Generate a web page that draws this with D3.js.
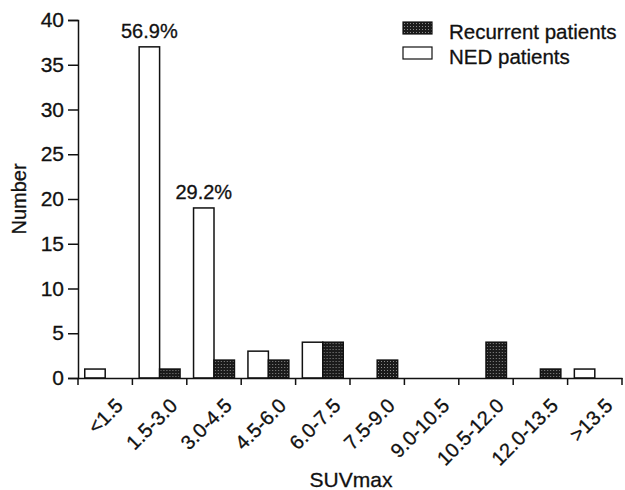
<!DOCTYPE html>
<html>
<head>
<meta charset="utf-8">
<script src="https://cdn.jsdelivr.net/npm/d3@7"></script>
<style>
  body { margin: 0; background: #fff; }
  svg text { font-family: "Liberation Sans", Arial, sans-serif; fill: #111; stroke: #111; stroke-width: 0.3px; }
</style>
</head>
<body>
<svg id="chart" width="625" height="490"></svg>
<script>
const categories = ["<1.5", "1.5-3.0", "3.0-4.5", "4.5-6.0", "6.0-7.5", "7.5-9.0", "9.0-10.5", "10.5-12.0", "12.0-13.5", ">13.5"];
const series = ["NED patients", "Recurrent patients"];
const nedValues = [1, 37, 19, 3, 4, 0, 0, 0, 0, 1];
const recurrentValues = [0, 1, 2, 2, 4, 2, 0, 4, 1, 0];
const pctLabels = [{ cat: "1.5-3.0", text: "56.9%" }, { cat: "3.0-4.5", text: "29.2%" }];
const yTicks = [0, 5, 10, 15, 20, 25, 30, 35, 40];

const svg = d3.select("#chart");
const margin = { left: 78, right: 3, top: 20, bottom: 112 };
const width = 625, height = 490;

const x = d3.scaleBand().domain(categories).range([margin.left, width - margin.right]).padding(0);
const xs = d3.scaleBand().domain(series).range([0, x.bandwidth()]).paddingInner(0).paddingOuter(0.33);
const y = d3.scaleLinear().domain([0, 40]).range([height - margin.bottom, margin.top]);

// stipple pattern for recurrent bars
const pat = svg.append("defs").append("pattern")
  .attr("id", "stip")
  .attr("patternUnits", "userSpaceOnUse")
  .attr("width", 3).attr("height", 3);
pat.append("rect").attr("width", 3).attr("height", 3).attr("fill", "#1b1b1b");
pat.append("rect").attr("x", 1).attr("y", 1).attr("width", 1).attr("height", 1).attr("fill", "#8a8a8a");

const fills = { "NED patients": "#fff", "Recurrent patients": "url(#stip)" };
const rows = categories.map((c, i) => ({ cat: c, vals: [
  { s: "NED patients", v: nedValues[i] },
  { s: "Recurrent patients", v: recurrentValues[i] }
] }));

// bars
svg.append("g").selectAll("g")
  .data(rows)
  .enter().append("g")
  .attr("transform", d => `translate(${x(d.cat)},0)`)
  .selectAll("rect")
  .data(d => d.vals.filter(e => e.v > 0))
  .enter().append("rect")
  .attr("x", d => xs(d.s))
  .attr("y", d => y(d.v))
  .attr("width", xs.bandwidth())
  .attr("height", d => y(0) - y(d.v))
  .attr("fill", d => fills[d.s])
  .attr("stroke", "#111")
  .attr("stroke-width", 1.5);

// y axis
const yAxis = svg.append("g")
  .attr("transform", `translate(${margin.left},0)`)
  .call(d3.axisLeft(y).tickValues(yTicks).tickSize(10).tickPadding(4));
yAxis.select(".domain").attr("stroke", "#111").attr("stroke-width", 1.5);
yAxis.selectAll(".tick line").attr("stroke", "#111").attr("stroke-width", 1.5);
yAxis.selectAll("text").attr("font-size", 21).attr("font-family", "Liberation Sans, Arial, sans-serif").attr("fill", "#111");

// x axis
const xAxis = svg.append("g")
  .attr("transform", `translate(0,${y(0)})`)
  .call(d3.axisBottom(x).tickSize(0).tickFormat(""));
xAxis.select(".domain").attr("stroke", "#111").attr("stroke-width", 1.5);
xAxis.selectAll(".tick").remove();

const edges = categories.map(c => x(c)).concat([x(categories[categories.length - 1]) + x.bandwidth()]);
svg.append("g").selectAll("line")
  .data(edges)
  .enter().append("line")
  .attr("x1", d => d).attr("x2", d => d)
  .attr("y1", y(0)).attr("y2", y(0) + 7)
  .attr("stroke", "#111").attr("stroke-width", 1.5);

svg.append("g").selectAll("text")
  .data(categories)
  .enter().append("text")
  .attr("transform", d => `translate(${x(d) + x.bandwidth() / 2 + 19},${y(0) + 29}) rotate(-45)`)
  .attr("text-anchor", "end")
  .attr("font-size", 20)
  .text(d => d);

// percent labels
svg.append("g").selectAll("text")
  .data(pctLabels)
  .enter().append("text")
  .attr("x", d => x(d.cat) + xs("NED patients") + xs.bandwidth() / 2)
  .attr("y", d => y(nedValues[categories.indexOf(d.cat)]) - 9)
  .attr("text-anchor", "middle")
  .attr("font-size", 20)
  .text(d => d.text);

// axis titles
svg.append("text")
  .attr("transform", `translate(26,${(y(0) + y(40)) / 2}) rotate(-90)`)
  .attr("text-anchor", "middle")
  .attr("font-size", 20)
  .text("Number");

svg.append("text")
  .attr("x", 351).attr("y", 487)
  .attr("text-anchor", "middle")
  .attr("font-size", 21)
  .text("SUVmax");

// legend
const legendItems = ["Recurrent patients", "NED patients"];
const legend = svg.append("g").attr("transform", "translate(403,22)");
legendItems.forEach((s, i) => {
  legend.append("rect")
    .attr("x", 0).attr("y", i * 25)
    .attr("width", 29).attr("height", 12)
    .attr("fill", fills[s]).attr("stroke", "#111").attr("stroke-width", 1.2);
  legend.append("text")
    .attr("x", 46).attr("y", i * 25 + 17)
    .attr("font-size", 20.5)
    .text(s);
});
</script>
</body>
</html>
